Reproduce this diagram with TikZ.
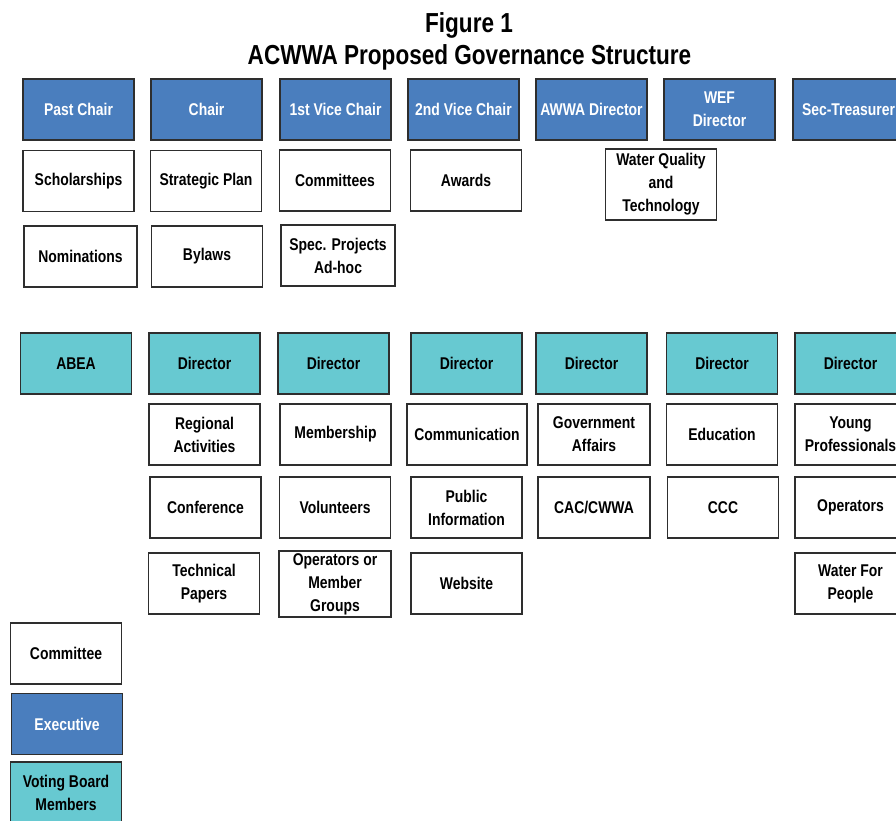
\documentclass[tikz,border=0pt]{standalone}
\usepackage{fontspec}
\setmainfont{Liberation Sans}[FakeStretch=0.82]
\definecolor{execblue}{HTML}{4A7EBE}
\definecolor{boardteal}{HTML}{67C9D1}
\definecolor{edge}{HTML}{2E2E2E}
\begin{document}
\begin{tikzpicture}[x=1pt,y=-1pt,
  box/.style={draw=edge, line width=1.2pt, rectangle, minimum width=111pt,
    minimum height=61pt, inner sep=0pt, align=center,
    font=\fontsize{17}{23}\selectfont\bfseries},
  exec/.style={box, fill=execblue, text=white},
  board/.style={box, fill=boardteal, text=black},
  cmte/.style={box, fill=white, text=black},
  heading/.style={anchor=base, inner sep=0pt,
    font=\fontsize{27.5}{34}\selectfont\bfseries}]
\useasboundingbox (0,0) rectangle (896,820);
\clip (0,0) rectangle (896,820);

% title
\node[heading] (fig) at (469,32) {Figure 1};
\node[heading] (ttl) at (469.5,64) {ACWWA Proposed Governance Structure};

% executive officers
\node[exec] (pastchair) at (78.5,109.5) {Past Chair};
\node[exec] (chair)     at (206.5,109.5) {Chair};
\node[exec] (vice1)     at (335.5,109.5) {1st Vice Chair};
\node[exec] (vice2)     at (463.5,109.5) {2nd Vice Chair};
\node[exec] (awwa)      at (591.5,109.5) {AWWA Director};
\node[exec] (wef)       at (719.5,109.5) {WEF\\Director};
\node[exec] (sectreas)  at (848.5,109.5) {Sec-Treasurer};

% committees under the officers
\node[cmte] (scholar)   at (78.5,181)  {Scholarships};
\node[cmte] (strategic) at (206,181)   {Strategic Plan};
\node[cmte] (cmtees)    at (335,180.5)   {Committees};
\node[cmte] (awards)    at (466,180.5)   {Awards};
\node[cmte, minimum height=71pt] (wqt) at (661,184.5) {Water Quality\\and\\Technology};
\node[cmte, minimum width=113pt] (nominate) at (80.5,256.5) {Nominations};
\node[cmte] (bylaws)    at (207,256.5)   {Bylaws};
\node[cmte, minimum width=114pt] (special) at (338,255.5) {Spec. Projects\\Ad-hoc};

% voting board members
\node[board] (abea)  at (76,363.5)  {ABEA};
\node[board] (dir1)  at (204.5,363.5) {Director};
\node[board] (dir2)  at (333.5,363.5) {Director};
\node[board] (dir3)  at (466.5,363.5) {Director};
\node[board] (dir4)  at (591.5,363.5) {Director};
\node[board] (dir5)  at (722,363.5) {Director};
\node[board] (dir6)  at (850.5,363.5) {Director};

% committees under the directors
\node[cmte] (regional) at (204.5,434.5) {Regional\\Activities};
\node[cmte] (member)   at (335.5,434.5) {Membership};
\node[cmte, minimum width=120pt] (comm) at (467,434.5) {Communication};
\node[cmte, minimum width=112pt] (govt) at (594,434.5) {Government\\Affairs};
\node[cmte] (educ)     at (722,434.5) {Education};
\node[cmte] (young)    at (850.5,434.5) {Young\\Professionals};

\node[cmte] (conf)     at (205.5,507.5) {Conference};
\node[cmte] (volunt)   at (335,507.5) {Volunteers};
\node[cmte] (public)   at (466.5,507.5) {Public\\Information};
\node[cmte, minimum width=112pt] (cac) at (594,507.5) {CAC/CWWA};
\node[cmte] (ccc)      at (723,507.5) {CCC};
\node[cmte] (opers)    at (850.5,507.5) {Operators};

\node[cmte] (techpap)  at (204,583.5) {Technical\\Papers};
\node[cmte, minimum width=112pt, minimum height=66pt] (opgroups) at (335,584) {Operators or\\Member\\Groups};
\node[cmte] (website)  at (466.5,583.5) {Website};
\node[cmte] (wfp)      at (850.5,583.5) {Water For\\People};

% legend
\node[cmte]  (keycmte)  at (66,653.5) {Committee};
\node[exec]  (keyexec)  at (67,724)   {Executive};
\node[board] (keyboard) at (66,792.5) {Voting Board\\Members};
\end{tikzpicture}
\end{document}
